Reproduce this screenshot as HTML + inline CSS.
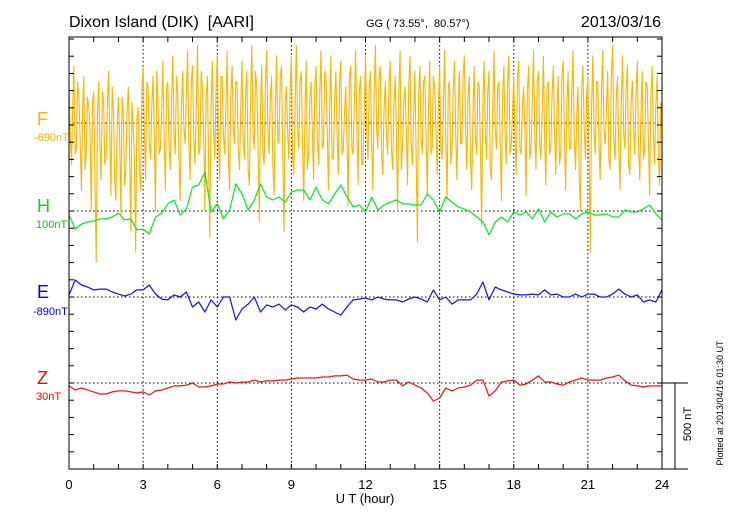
<!DOCTYPE html>
<html><head><meta charset="utf-8">
<style>
body{margin:0;background:#fff;}
svg{display:block;font-family:"Liberation Sans",sans-serif;}
</style></head>
<body>
<svg id="chart" width="730" height="520" viewBox="0 0 730 520">
<defs><clipPath id="pc"><rect x="69" y="37" width="593" height="432"/></clipPath></defs>
<text x="69" y="27" font-size="16" xml:space="preserve">Dixon Island (DIK)  [AARI]</text>
<text x="366" y="27" font-size="11" xml:space="preserve">GG ( 73.55°,  80.57°)</text>
<text x="661" y="27" font-size="16" text-anchor="end">2013/03/16</text>
<g id="grid"></g>
<g id="series" clip-path="url(#pc)"></g>
<g id="axes"></g>
<text x="37" y="125" font-size="18" fill="#FFB000">F</text>
<text x="34" y="141" font-size="11" fill="#FFB000">-690nT</text>
<text x="37" y="212" font-size="18" fill="#00E000">H</text>
<text x="36" y="228" font-size="11" fill="#00D000">100nT</text>
<text x="37" y="298" font-size="18" fill="#0000FF">E</text>
<text x="33" y="315" font-size="11" fill="#0000FF">-890nT</text>
<text x="37" y="384" font-size="18" fill="#FF0000">Z</text>
<text x="36" y="400" font-size="11" fill="#FF0000">30nT</text>
<text x="365" y="503" font-size="13" text-anchor="middle">U T (hour)</text>
<text transform="translate(691,424) rotate(-90)" font-size="11" text-anchor="middle">500 nT</text>
<text transform="translate(723,403) rotate(-90)" font-size="9" text-anchor="middle">Plotted at 2013/04/16 01:30 UT</text>
</svg>
<script>
const xTicks = [0,3,6,9,12,15,18,21,24];
const hStep = 0.25;
const fStep = 0.1;
const fValues = [210,-240,330,-150,150,-390,270,-180,90,-510,
180,-810,240,-330,120,-210,300,-420,60,-450,
150,-540,30,-270,210,-630,-30,-750,90,-390,
330,-330,210,-210,270,-510,150,-150,360,-390,
240,-270,390,-180,180,-450,300,-120,420,-330,
330,-240,450,-150,210,-510,270,-660,360,-210,
390,-330,270,-180,420,-390,330,-120,240,-270,
360,-210,300,-360,450,-150,210,-570,330,-240,
420,-180,270,-420,390,-120,330,-630,210,-210,
390,-300,450,-150,300,-450,360,-180,240,-330,
330,-240,420,-120,270,-390,390,-210,300,-300,
360,-150,210,-480,330,-180,420,-360,270,-240,
390,-210,300,-390,450,-150,330,-300,240,-180,
360,-270,270,-510,420,-120,210,-360,390,-240,
300,-690,330,-180,270,-420,360,-150,210,-300,
330,-210,420,-450,240,-150,360,-330,300,-120,
390,-270,270,-390,330,-180,210,-600,360,-210,
300,-330,420,-150,240,-450,330,-240,390,-120,
270,-300,360,-180,210,-420,330,-150,420,-270,
300,-210,390,-360,240,-150,330,-300,270,-180,
360,-390,300,-150,420,-270,210,-510,330,-210,
270,-750,390,-180,240,-330,420,-120,300,-270,
450,-210,270,-390,390,-150,330,-300,240,-180,
360,-330,300,-150,210,-420,330,-240,270,-360,-30];
const fValuesMid = [-60,90,-180,240,-90,60,-270,150,-30,120,
-300,30,-120,180,-240,90,-60,210,-330,0,
-90,150,-360,60,-150,120,-210,30,-270,180,
-60,240,-120,90,-30,300,-180,60,-90,210,
-150,120,-60,270,-210,90,-30,180,-120,240,
-90,60,-180,300,-60,150,-240,90,-30,180,
-120,270,-60,90,-210,150,-30,240,-150,60,
-90,180,-270,120,-60,300,-120,90,-180,210,
-30,150,-240,60,-90,270,-150,120,-60,180,
-210,90,-30,240,-120,60,-270,150,-60,210,
-90,180,-150,300,-30,90,-210,120,-60,240,
-180,60,-90,270,-150,120,-30,180,-240,90,
-60,210,-120,150,-30,270,-180,60,-90,240,
-150,90,-60,180,-270,120,-30,210,-120,60,
-210,150,-90,240,-60,90,-180,270,-30,120,
-150,60,-90,210,-240,180,-60,90,-120,270,
-30,150,-210,60,-90,240,-150,120,-60,180,
-270,90,-30,210,-120,150,-60,240,-180,60,
-90,270,-150,90,-30,180,-210,120,-60,240,
-120,60,-90,210,-180,150,-30,90,-240,270,
-60,120,-150,180,-90,60,-300,210,-30,150,
-180,90,-60,240,-120,180,-30,60,-210,270,
-90,150,-150,90,-60,210,-240,120,-30,180,
-120,60,-210,240,-90,150,-60,90,-180,120];
const hValues = [-23,-105,-76,-64,-58,-46,-46,-35,-12,-52,-46,-110,-105,-134,-35,-12,41,64,-23,12,139,151,227,-6,41,-46,6,157,99,6,64,157,81,64,81,52,110,122,122,64,139,64,41,99,151,81,23,35,-6,81,6,35,52,64,41,41,35,35,99,64,-6,81,52,23,12,-6,-35,-64,-139,-64,-35,-64,-6,-23,-6,-46,12,-64,-6,-35,-17,-17,-46,-17,-6,-23,-23,-17,-35,-35,6,-6,-6,12,35,-17,-52];
const eValues = [12,99,70,58,41,46,46,29,17,6,17,41,41,70,17,-12,-17,12,0,29,-58,-29,-87,-17,-58,0,0,-134,-70,-41,0,-87,-46,-58,-41,-76,-46,-58,-87,-58,-70,-41,-70,-87,-105,-58,-17,-12,-6,-17,0,-12,-17,-17,-29,-12,0,-12,-29,41,-17,0,-41,-17,-17,-17,17,87,-17,58,41,29,17,12,12,17,12,41,12,17,0,0,17,0,17,17,0,0,17,46,17,0,12,-29,-17,-29,41];
const zValues = [-17,-41,-29,-41,-52,-64,-64,-52,-46,-46,-52,-58,-52,-70,-46,-41,-29,-17,-17,-12,0,-23,-23,-17,-6,-6,6,0,6,6,17,6,12,12,17,17,23,29,29,29,29,35,35,41,41,46,23,17,17,23,6,6,17,17,-17,6,-12,-29,-58,-105,-87,-29,-46,-29,-23,-12,17,17,-76,-46,6,12,17,-12,-6,17,41,6,6,-6,-12,6,17,29,17,17,17,29,35,46,12,-12,-17,-23,-17,-17,-17];
const baselines = {F:123,H:211,E:297,Z:383};
const X0=69, X1=662, Y0=37, Y1=469;
const NS='http://www.w3.org/2000/svg';
function xScale(h){return X0+(X1-X0)*h/24;}
function yScale(base,nT){return base-nT*86/500;}
function mk(tag,attrs,parent){const e=document.createElementNS(NS,tag);for(const k in attrs)e.setAttribute(k,attrs[k]);parent.appendChild(e);return e;}
const grid=document.getElementById('grid'), axes=document.getElementById('axes'), series=document.getElementById('series');
xTicks.forEach(h=>{
  if(h>0&&h<24){
    const l=mk('line',{x1:xScale(h),x2:xScale(h),y1:Y0,y2:Y1,stroke:'#000','stroke-width':1,'stroke-dasharray':'1.5,2.5'},grid);
    
    
  }
  const t=mk('text',{x:xScale(h),y:489,'font-size':13,'text-anchor':'middle'},axes);
  t.textContent=h;
  
  
});
Object.values(baselines).forEach(b=>{
  const l=mk('line',{x1:X0,x2:X1,y1:b,y2:b,stroke:'#000','stroke-width':1,'stroke-dasharray':'1.5,2.5'},grid);
  
  
});
function drawPts(pts,base,color,name,w){
  let d='';
  pts.forEach((p,i)=>{d+=(i?'L':'M')+xScale(p[0]).toFixed(1)+','+yScale(base,p[1]).toFixed(1);});
  const el=mk('path',{d:d,fill:'none',stroke:color,'stroke-width':w,'stroke-linejoin':'round'},series);
  
  
}
function seriesPts(vals,step){return vals.map((v,i)=>[i*step,v]);}
const fPts=[];
fValues.forEach((v,i)=>{fPts.push([i*fStep,v]);if(i<fValuesMid.length)fPts.push([i*fStep+fStep/2,fValuesMid[i]]);});
drawPts(fPts,baselines.F,'#FFB400','f-series',1.1);
drawPts(seriesPts(hValues,hStep),baselines.H,'#00EE22','h-series',1.2);
drawPts(seriesPts(eValues,hStep),baselines.E,'#1010FF','e-series',1.2);
drawPts(seriesPts(zValues,hStep),baselines.Z,'#FF1010','z-series',1.2);
const frame=mk('rect',{x:X0,y:Y0,width:X1-X0,height:Y1-Y0,fill:'none',stroke:'#000','stroke-width':1},axes);


for(let h=1;h<24;h++){
  mk('line',{x1:xScale(h),x2:xScale(h),y1:Y0,y2:Y0+5,stroke:'#000'},axes);
  mk('line',{x1:xScale(h),x2:xScale(h),y1:Y1,y2:Y1-5,stroke:'#000'},axes);
}
for(let y=Y1;y>Y0;y-=86/5){
  mk('line',{x1:X0,x2:X0+5,y1:y,y2:y,stroke:'#000'},axes);
  mk('line',{x1:X1,x2:X1-5,y1:y,y2:y,stroke:'#000'},axes);
}
const sb=mk('path',{d:'M662,383H688M675,383V469M662,469H688',stroke:'#000',fill:'none'},axes);


</script>
</body></html>
